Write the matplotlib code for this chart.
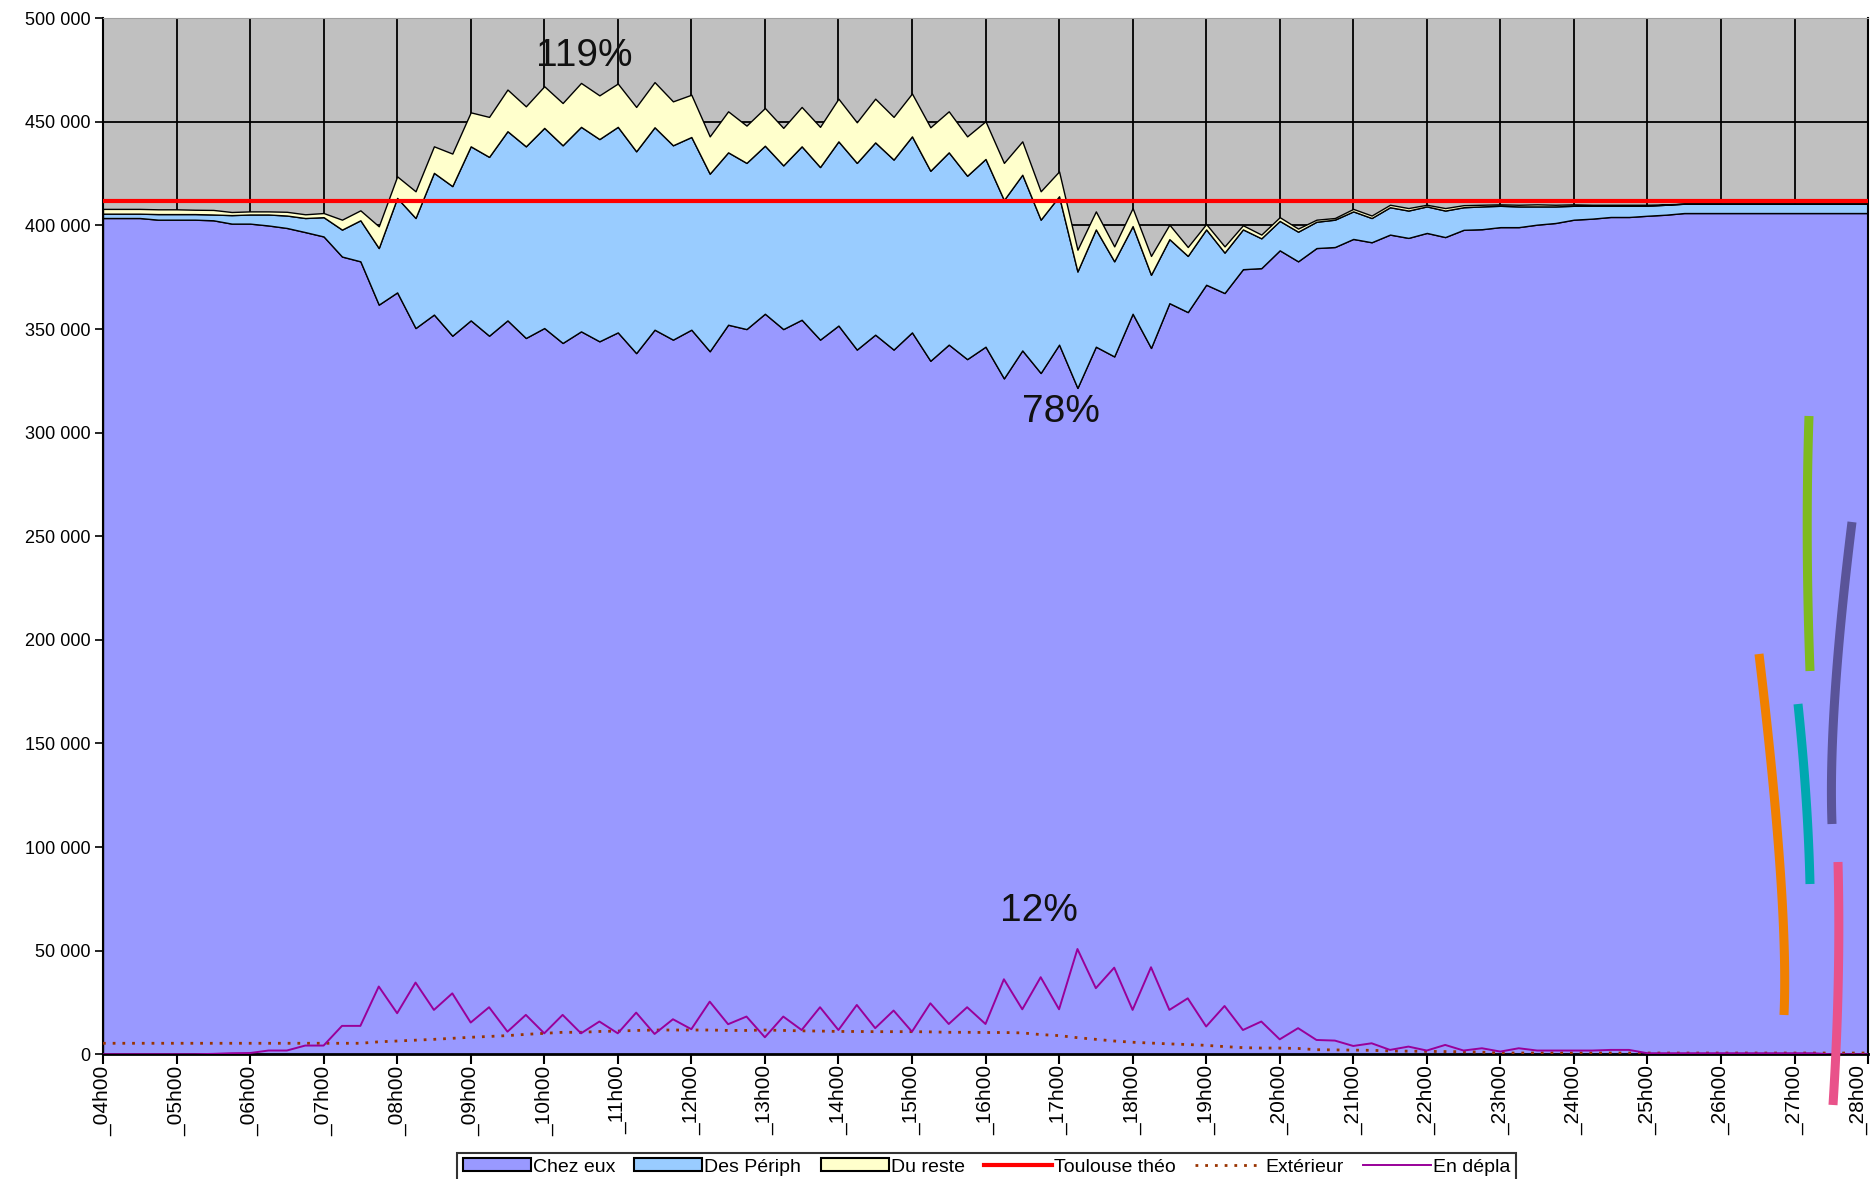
import numpy as np
import matplotlib
matplotlib.use("Agg")
from matplotlib import pyplot as plt
from matplotlib.lines import Line2D

plt.rcParams['font.family'] = ['Liberation Sans', 'DejaVu Sans']

# quarter-hour steps from 04h00 to 28h00
hours = ["_%02dh00" % h for h in range(4, 29)]
steps = list(range(97))

# values, in thousands
chez_eux = [403.6, 403.6, 403.6, 402.8, 402.8, 402.8, 402.5, 400.9, 400.9, 400.0,
            398.8, 396.8, 394.7, 385.0, 382.7, 361.8, 367.7, 350.5, 357.0, 346.8,
            354.2, 346.8, 354.2, 345.7, 350.5, 343.3, 348.9, 344.1, 348.4, 338.4,
            349.7, 344.9, 349.7, 339.3, 352.1, 350.0, 357.4, 350.0, 354.5, 344.9,
            351.7, 340.1, 347.3, 340.1, 348.4, 334.7, 342.5, 335.5, 341.5, 326.2,
            339.7, 328.8, 342.5, 321.6, 341.5, 336.8, 357.4, 340.9, 362.5, 358.2,
            371.4, 367.4, 378.9, 379.4, 388.0, 382.7, 389.1, 389.6, 393.5, 391.9,
            395.6, 394.0, 396.4, 394.4, 397.9, 398.2, 399.2, 399.2, 400.4, 401.2,
            402.8, 403.3, 404.1, 404.1, 404.7, 405.2, 406.0, 406.0, 406.0, 406.0,
            406.0, 406.0, 406.0, 406.0, 406.0, 406.0, 406.0]

des_periph = [2.1, 2.1, 2.1, 2.7, 2.7, 2.7, 2.8, 4.1, 4.4, 5.3,
              6.0, 6.8, 9.3, 13.0, 19.8, 27.3, 45.6, 53.1, 68.4, 72.2,
              84.0, 86.3, 91.3, 92.5, 96.6, 95.4, 98.7, 97.6, 99.2, 97.4,
              97.7, 93.8, 93.0, 85.7, 83.2, 80.2, 81.1, 79.0, 83.7, 83.3,
              88.9, 90.1, 92.8, 91.7, 94.6, 91.7, 92.8, 88.5, 90.6, 86.1,
              84.8, 74.0, 71.6, 56.2, 56.6, 45.9, 42.3, 35.3, 30.9, 27.1,
              26.7, 19.5, 19.2, 14.4, 14.2, 14.3, 12.7, 13.2, 13.3, 11.7,
              13.2, 13.2, 12.8, 12.8, 10.9, 11.0, 10.3, 10.0, 8.8, 8.0,
              6.7, 6.2, 5.4, 5.4, 4.8, 4.8, 4.5, 4.5, 4.5, 4.5,
              4.5, 4.5, 4.5, 4.5, 4.5, 4.5, 4.5]

du_reste = [2.3, 2.3, 2.3, 2.3, 2.3, 2.1, 2.2, 1.5, 1.5, 1.5,
            1.8, 1.8, 2.0, 4.8, 4.8, 10.5, 10.4, 12.9, 12.8, 15.7,
            16.4, 19.3, 20.1, 19.3, 20.1, 20.4, 21.2, 21.1, 20.9, 21.4,
            21.8, 21.2, 20.4, 18.0, 19.8, 18.0, 18.2, 18.1, 19.0, 19.4,
            20.6, 19.6, 21.1, 20.6, 20.7, 21.0, 19.8, 19.0, 18.2, 17.9,
            16.1, 13.7, 12.0, 10.5, 8.7, 7.2, 8.7, 9.1, 7.0, 4.3,
            2.6, 3.0, 2.0, 1.8, 1.8, 1.5, 1.0, 0.8, 1.2, 1.2,
            1.2, 1.2, 0.8, 1.2, 1.0, 0.8, 0.7, 0.8, 1.0, 0.8,
            0.7, 0.5, 0.5, 0.5, 0.5, 0.2, 0.0, 0.0, 0.0, 0.0,
            0.0, 0.0, 0.0, 0.0, 0.0, 0.0, 0.0]

toulouse_theo = 411.7

exterieur = [5.3, 5.3, 5.3, 5.3, 5.3, 5.3, 5.3, 5.3, 5.3, 5.3,
             5.3, 5.3, 5.3, 5.3, 5.3, 6.0, 6.4, 6.8, 7.2, 7.7,
             8.2, 8.6, 9.0, 9.6, 10.1, 10.6, 10.6, 11.0, 11.2, 11.5,
             11.7, 11.7, 11.7, 11.7, 11.5, 11.5, 11.7, 11.5, 11.3, 11.2,
             11.0, 11.0, 10.9, 10.9, 10.9, 10.8, 10.6, 10.6, 10.5, 10.5,
             10.3, 9.5, 9.0, 8.0, 7.2, 6.4, 5.8, 5.4, 5.0, 4.7,
             4.3, 3.7, 3.2, 3.0, 3.0, 2.8, 2.2, 2.1, 2.0, 1.9,
             1.6, 1.5, 1.4, 1.3, 1.2, 1.0, 0.6, 0.6, 0.6, 0.6,
             0.6, 0.6, 0.6, 0.6, 0.6, 0.6, 0.6, 0.6, 0.6, 0.6,
             0.6, 0.6, 0.6, 0.6, 0.6, 0.6, 0.6]

en_depla = [0.0, 0.0, 0.0, 0.0, 0.0, 0.0, 0.2, 0.5, 0.6, 1.8,
            1.8, 4.2, 4.2, 13.7, 13.7, 32.7, 19.8, 34.6, 21.4, 29.4,
            15.3, 22.7, 10.9, 19.0, 10.1, 19.0, 10.1, 15.8, 10.1, 20.1,
            9.8, 16.9, 12.1, 25.4, 14.5, 18.2, 8.2, 18.2, 11.7, 22.7,
            11.7, 23.8, 12.6, 21.1, 10.9, 24.6, 14.6, 22.7, 14.6, 36.2,
            21.7, 37.2, 21.7, 50.8, 31.9, 41.8, 21.4, 42.0, 21.4, 27.0,
            13.4, 23.3, 11.7, 15.8, 7.2, 12.6, 6.9, 6.6, 4.0, 5.3,
            2.1, 3.7, 1.8, 4.5, 1.8, 2.9, 1.3, 2.9, 1.8, 1.8,
            1.8, 1.8, 2.1, 2.1, 0.5, 0.5, 0.5, 0.5, 0.5, 0.5,
            0.5, 0.5, 0.5, 0.5, 0.0, 0.0, 0.0]

labels = ["Chez eux", "Des Périph", "Du reste", "Toulouse théo", "Extérieur", "En dépla"]

# percentages written on the chart: (text, step, value in thousands)
notes = [("119%", 26.2, 482), ("78%", 52.1, 310), ("12%", 50.9, 69)]

k = 1000.0
x = np.array(steps)

fig = plt.figure(figsize=(18.72, 11.79), dpi=100)
ax = fig.add_axes([0.055, 0.1058, 0.9429, 0.8787])
ax.set_facecolor('#C0C0C0')

ax.stackplot(x, np.array(chez_eux) * k, np.array(des_periph) * k, np.array(du_reste) * k,
             colors=['#9999FF', '#99CCFF', '#FFFFCC'], edgecolor='black', linewidth=1.0,
             labels=labels[:3])
ax.axhline(toulouse_theo * k, color='#FF0000', lw=3, label=labels[3], zorder=3)
ax.plot(x, np.array(exterieur) * k, color='#993300', lw=2, ls=(0, (1, 2.5)), label=labels[4], zorder=3)
ax.plot(x, np.array(en_depla) * k, color='#990099', lw=1.4, label=labels[5], zorder=3)

for txt, sx, sy in notes:
    ax.text(sx, sy * k, txt, fontsize=28, ha='center', va='center', color='#111111', zorder=4)

ax.set_xlim(0, 96)
ax.set_ylim(0, 500000)
ax.set_xticks(range(0, 97, 4))
ax.set_xticklabels(hours, rotation=90, fontsize=15, va='top', ha='center')
# last label sits on the right edge: keep it inside the figure
ax.get_xticklabels()[-1].set_ha('right')
yt = list(range(0, 500001, 50000))
ax.set_yticks(yt)
ax.set_yticklabels(["%d" % v if v == 0 else "{:,}".format(v).replace(",", " ") for v in yt], fontsize=13)
ax.tick_params(axis='x', length=7, width=1.5, pad=1, direction='out')
ax.tick_params(axis='y', length=6, width=1.2, pad=3, direction='out')

ax.set_axisbelow(True)
ax.grid(True, color='black', lw=1.3)
ax.spines['top'].set_color('#A0A0A0')
ax.spines['left'].set_linewidth(1.5)
ax.spines['bottom'].set_linewidth(2)
ax.spines['right'].set_linewidth(1.5)

handles, labs = ax.get_legend_handles_labels()
leg = fig.legend(handles, labs, loc='lower center', bbox_to_anchor=(0.527, -0.002), ncol=6,
                 fontsize=14, frameon=True, fancybox=False, edgecolor='black',
                 handlelength=3.5, handleheight=0.6, handletextpad=0.1, columnspacing=1.0,
                 borderpad=0.3, borderaxespad=0)
leg.get_frame().set_linewidth(1.5)
for p in leg.get_patches():
    p.set_edgecolor('black')
    p.set_linewidth(1.5)

# coloured pen strokes drawn over the right side of the picture (pixels: top, middle, bottom)
strokes = [
    ('#F08000', (1759, 654), (1789, 906), (1784, 1015)),
    ('#7FBA1E', (1809, 416), (1805, 537), (1810, 671)),
    ('#00A8B0', (1798, 704), (1808, 800), (1810, 884)),
    ('#5A5499', (1852, 522), (1828, 716), (1832, 824)),
    ('#E9528A', (1838, 862), (1841, 979), (1833, 1105)),
]
t = np.linspace(0, 1, 40)
for col, p0, p1, p2 in strokes:
    px = (1 - t) ** 2 * p0[0] + 2 * (1 - t) * t * p1[0] + t ** 2 * p2[0]
    py = (1 - t) ** 2 * p0[1] + 2 * (1 - t) * t * p1[1] + t ** 2 * p2[1]
    fig.add_artist(Line2D(px / 1872, 1 - py / 1179, color=col, lw=6.5,
                          solid_capstyle='butt', transform=fig.transFigure))

plt.savefig("out.png", dpi=100)
